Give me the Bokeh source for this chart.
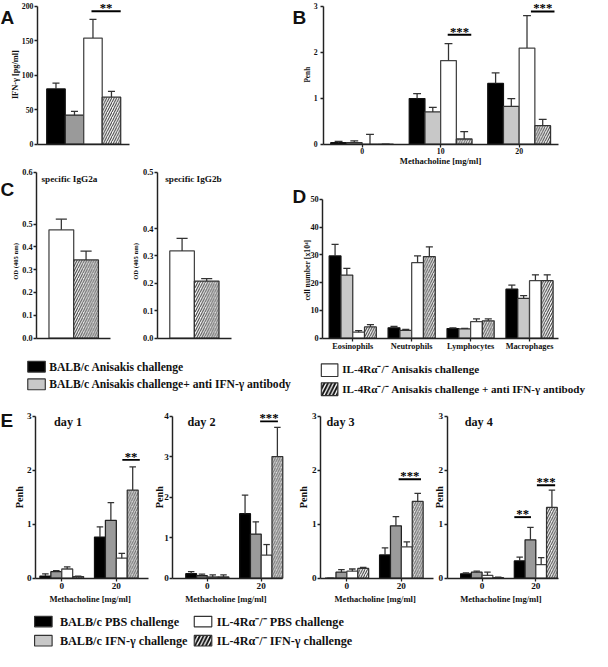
import math
from bokeh.plotting import figure
from bokeh.models import Range1d, FixedTicker, Label, ColumnDataSource
from bokeh.layouts import column, row
from bokeh.embed import file_html
from bokeh.resources import INLINE
from bokeh.core.properties import value

# ------------------------------------------------------------------ DATA
# Panel A : IFN-gamma [pg/ml]
a_groups = ["BALB/c Anisakis", "BALB/c Anisakis + anti IFN-γ",
            "IL-4Rα-/- Anisakis", "IL-4Rα-/- Anisakis + anti IFN-γ"]
a_mean = [80, 42, 154, 68]
a_err = [8.5, 5.5, 27, 8.5]
a_yticks = [0, 50, 100, 150, 200]
a_sig_x0 = [1.92]
a_sig_x1 = [3.5]
a_sig_y = [193]
a_sig_txt = ["**"]

# Panel B : Penh vs methacholine
b_doses = ["0", "10", "20"]
b_balbc = [0.03, 0.99, 1.32]
b_balbc_err = [0.03, 0.11, 0.23]
b_balbc_anti = [0.03, 0.70, 0.82]
b_balbc_anti_err = [0.04, 0.10, 0.17]
b_il4 = [0.0, 1.82, 2.09]
b_il4_err = [0.21, 0.37, 0.71]
b_il4_anti = [0.0, 0.11, 0.40]
b_il4_anti_err = [0.0, 0.16, 0.14]
b_yticks = [0, 1, 2, 3]
b_sig_x0 = [1.09, 2.15]
b_sig_x1 = [1.39, 2.45]
b_sig_y = [2.38, 2.89]
b_sig_txt = ["***", "***"]

# Panel C : specific IgG2a / IgG2b, OD (405 nm)
c_titles = ["specific IgG2a", "specific IgG2b"]
c1_mean = [0.475, 0.343]
c1_err = [0.047, 0.039]
c2_mean = [0.318, 0.208]
c2_err = [0.046, 0.009]
c1_yticks = [0.0, 0.1, 0.2, 0.3, 0.4, 0.5]
c1_ylabels = ["0.0", "0.1", "0.2", "0.3", "0.4", "0.5", "0.6"]
c2_yticks = [0.0, 0.1, 0.2, 0.3, 0.4]
c2_ylabels = ["0.0", "0.1", "0.2", "0.3", "0.4", "0.5"]

# Panel D : cell number [x10^4]
d_categories = ["Eosinophils", "Neutrophils", "Lymphocytes", "Macrophages"]
d_balbc = [29.6, 3.7, 3.4, 17.6]
d_balbc_err = [4.2, 0.5, 0.3, 1.5]
d_balbc_anti = [22.7, 2.8, 3.3, 14.3]
d_balbc_anti_err = [2.4, 0.3, 0.2, 1.0]
d_il4 = [2.1, 27.2, 5.9, 20.7]
d_il4_err = [0.6, 2.4, 1.0, 2.1]
d_il4_anti = [4.0, 29.4, 6.2, 20.7]
d_il4_anti_err = [0.8, 3.5, 0.7, 2.1]
d_yticks = [0, 10, 20, 30, 40, 50]

# Panel E : Penh, day 1-4
e_days = ["day 1", "day 2", "day 3", "day 4"]
e_doses = ["0", "20"]
e1 = [[0.04, 0.76], [0.12, 1.07], [0.17, 0.37], [0.03, 1.63]]
e1_err = [[0.04, 0.19], [0.02, 0.33], [0.04, 0.09], [0.01, 0.43]]
e2 = [[0.11, 1.59], [0.06, 1.09], [0.03, 0.57], [0.03, 3.00]]
e2_err = [[0.05, 0.46], [0.04, 0.30], [0.05, 0.26], [0.05, 0.72]]
e3 = [[0.0, 0.43], [0.11, 0.97], [0.13, 0.58], [0.18, 1.42]]
e3_err = [[0.0, 0.13], [0.05, 0.17], [0.04, 0.09], [0.02, 0.15]]
e4 = [[0.08, 0.32], [0.11, 0.71], [0.05, 0.25], [0.01, 1.31]]
e4_err = [[0.02, 0.07], [0.02, 0.23], [0.06, 0.13], [0.01, 0.32]]
e_ymax = [3, 4, 3, 3]
e_sig_x0 = [[1.11], [0.98], [0.95], [0.60, 1.02]]
e_sig_x1 = [[1.43], [1.31], [1.36], [0.91, 1.36]]
e_sig_y = [[2.19], [3.87], [1.83], [1.13, 1.72]]
e_sig_txt = [["**"], ["***"], ["***"], ["**", "***"]]

legend1_labels = ["BALB/c Anisakis challenge",
                  "BALB/c Anisakis challenge+ anti IFN-γ antibody",
                  "IL-4Rα⁻/⁻ Anisakis challenge",
                  "IL-4Rα⁻/⁻ Anisakis challenge + anti IFN-γ antibody"]
legend2_labels = ["BALB/c PBS challenge", "BALB/c  IFN-γ challenge",
                  "IL-4Rα⁻/⁻ PBS challenge", "IL-4Rα⁻/⁻  IFN-γ challenge"]

# ------------------------------------------------------------------ STYLE
SC = 592 / 608.0
def S(v):
    return v * SC
def R(v):
    return int(round(S(v)))

SERIF = "Liberation Serif"
SANS = "Liberation Sans"
AX = "#222222"

BLACK = dict(fill="#000000", line="#111111")
GRAY_D = dict(fill="#9a9a9a", line="#222222")
GRAY_L = dict(fill="#c8c8c8", line="#333333")
WHITE = dict(fill="#ffffff", line="#444444")
HATCH = dict(fill="#ffffff", line="#333333", hatch=True)


class Panel:
    """A figure that fills its whole cell; axes are drawn at fixed data locations."""
    def __init__(self, cell, axpos, xr, ytop_val, ytop_px):
        self.cx0, self.cy0, self.cx1, self.cy1 = cell
        self.fl, self.fr, self.fb = axpos       # y-axis x, x-axis end, zero line y (ref px)
        self.xr = xr                             # data x at fl and fr
        self.k = (self.fb - ytop_px) / ytop_val  # ref px per y unit
        p = figure(width=R(self.cx1) - R(self.cx0), height=R(self.cy1) - R(self.cy0),
                   x_range=Range1d(self.X(self.cx0), self.X(self.cx1)),
                   y_range=Range1d(self.Y(self.cy1), self.Y(self.cy0)),
                   min_border=0, toolbar_location=None, output_backend="svg")
        p.xgrid.visible = False
        p.ygrid.visible = False
        p.outline_line_color = None
        p.background_fill_color = "white"
        p.border_fill_color = "white"
        self.p = p

    def X(self, px):
        return self.xr[0] + (px - self.fl) / (self.fr - self.fl) * (self.xr[1] - self.xr[0])

    def Y(self, py):
        return (self.fb - py) / self.k

    def axes(self, xticks, xlabels, yticks, ylabels, ybound, fs, xstand=1, ystand=1):
        xa, ya = self.p.xaxis[0], self.p.yaxis[0]
        xa.fixed_location = 0
        ya.fixed_location = self.xr[0]
        xa.bounds = (self.xr[0], self.xr[1])
        ya.bounds = (0, ybound)
        xa.ticker = FixedTicker(ticks=list(xticks))
        xa.major_label_overrides = {t: l for t, l in zip(xticks, xlabels)}
        ya.ticker = FixedTicker(ticks=list(yticks))
        ya.major_label_overrides = {t: l for t, l in zip(yticks, ylabels)}
        for ax in (xa, ya):
            ax.axis_line_color = AX
            ax.axis_line_width = S(1.5)
            ax.major_tick_line_color = AX
            ax.major_tick_line_width = S(1.3)
            ax.major_tick_in = 0
            ax.major_tick_out = 3
            ax.minor_tick_line_color = None
            ax.major_label_text_font = SERIF
            ax.major_label_text_font_style = "bold"
            ax.major_label_text_font_size = f"{S(fs):.1f}px"
            ax.major_label_text_color = "#111111"
        xa.major_label_standoff = int(xstand)
        ya.major_label_standoff = int(ystand)

    def label(self, px, py, text, fs, font=SERIF, angle=0, align="left",
              baseline="middle", style="bold"):
        self.p.add_layout(Label(x=self.X(px), y=self.Y(py),
                                text=text, angle=angle,
                                text_align=align, text_baseline=baseline,
                                text_font=font, text_font_style=style,
                                text_font_size=f"{S(fs):.1f}px", text_color="#111111"))


def bars(pn, xs, means, errs, st, width, cap, lw=1.3):
    src = ColumnDataSource(dict(
        x=xs, top=means, etop=[m + e for m, e in zip(means, errs)],
        c0=[x - cap / 2 for x in xs], c1=[x + cap / 2 for x in xs]))
    kw = dict(fill_color=st["fill"], line_color=st["line"], line_width=S(lw))
    if st.get("hatch"):
        kw.update(hatch_pattern="/", hatch_color="#333333", hatch_scale=S(5),
                  hatch_weight=1.0)
    pn.p.vbar(x="x", top="top", bottom=0, width=width, source=src, **kw)
    pn.p.segment(x0="x", y0="top", x1="x", y1="etop", source=src,
                 line_color="#333333", line_width=S(1.3))
    pn.p.segment(x0="c0", y0="etop", x1="c1", y1="etop", source=src,
                 line_color="#333333", line_width=S(1.3))


def sig(pn, x0, x1, y, txt, fs=13):
    src = ColumnDataSource(dict(x0=x0, x1=x1, y=y, t=txt,
                                xm=[(a + b) / 2 for a, b in zip(x0, x1)]))
    pn.p.segment(x0="x0", y0="y", x1="x1", y1="y", source=src,
                 line_color="#000000", line_width=S(2))
    pn.p.text(x="xm", y="y", text="t", source=src, text_align="center",
              text_baseline="alphabetic", y_offset=-3,
              text_font=value(SERIF), text_font_style="bold",
              text_font_size=f"{S(fs):.1f}px", text_color="#000000")


def grouped(pn, series, errs, styles, ngroups, width=0.2, cap=0.11):
    offs = [-1.5 * width, -0.5 * width, 0.5 * width, 1.5 * width]
    for s, e, st, o in zip(series, errs, styles, offs):
        xs = [g + o for g in range(ngroups)]
        bars(pn, xs, s, e, st, width, cap)


def letter(pn, px, py, ch):
    pn.label(px, py, ch, 19.5, font=SANS, baseline="alphabetic")


# ------------------------------------------------------------------ PANEL A
A = Panel((0, 0, 300, 170), (38, 133, 147), (-1, 4), 200, 6)
A.axes([], [], a_yticks, [str(t) for t in a_yticks], 200, 8)
for i, st in enumerate([BLACK, GRAY_D, WHITE, HATCH]):
    bars(A, [i], [a_mean[i]], [a_err[i]], st, 1.0, 0.38)
sig(A, a_sig_x0, a_sig_x1, a_sig_y, a_sig_txt)
A.label(15, 76, "IFN-γ [pg/ml]", 8.5, angle=math.pi / 2, align="center")
letter(A, 0, 17, "A")

# ------------------------------------------------------------------ PANEL B
B = Panel((300, 0, 608, 170), (332, 573, 147), (-0.49, 2.5), 3, 6)
B.axes([0, 1, 2], b_doses, b_yticks, [str(t) for t in b_yticks], 3, 8, xstand=1, ystand=3)
grouped(B, [b_balbc, b_balbc_anti, b_il4, b_il4_anti],
        [b_balbc_err, b_balbc_anti_err, b_il4_err, b_il4_anti_err],
        [BLACK, GRAY_L, WHITE, HATCH], 3, cap=0.1)
sig(B, b_sig_x0, b_sig_x1, b_sig_y, b_sig_txt)
B.label(315, 76, "Penh", 7.5, angle=math.pi / 2, align="center")
B.label(452, 164.3, "Methacholine [mg/ml]", 8.8, align="center")
letter(B, 300, 17, "B")

# ------------------------------------------------------------------ PANEL C
C1 = Panel((0, 170, 125, 364), (37, 113, 347), (-1, 2), 0.5, 229.5)
c1_top = C1.Y(176)
C1.axes([], [], c1_yticks + [c1_top], c1_ylabels, c1_top, 8.5)
bars(C1, [0], [c1_mean[0]], [c1_err[0]], WHITE, 1.0, 0.45)
bars(C1, [1], [c1_mean[1]], [c1_err[1]], HATCH, 1.0, 0.45)
C1.label(42, 183, c_titles[0], 9.5)
C1.label(15, 268, "OD (405 nm)", 6.8, angle=math.pi / 2, align="center")
letter(C1, 0, 194, "C")

C2 = Panel((125, 170, 300, 364), (161, 237, 347), (-1, 2), 0.4, 234)
c2_top = C2.Y(176)
C2.axes([], [], c2_yticks + [c2_top], c2_ylabels, c2_top, 8.5)
bars(C2, [0], [c2_mean[0]], [c2_err[0]], WHITE, 1.0, 0.45)
bars(C2, [1], [c2_mean[1]], [c2_err[1]], HATCH, 1.0, 0.45)
C2.label(169, 183, c_titles[1], 9.5)
C2.label(138, 268, "OD (405 nm)", 6.8, angle=math.pi / 2, align="center")

# ------------------------------------------------------------------ PANEL D
D = Panel((300, 170, 608, 364), (331, 573, 347), (-0.51, 3.49), 50, 204)
D.axes([0, 1, 2, 3], d_categories, d_yticks, [str(t) for t in d_yticks], 50, 8.5,
       xstand=1, ystand=1)
grouped(D, [d_balbc, d_balbc_anti, d_il4, d_il4_anti],
        [d_balbc_err, d_balbc_anti_err, d_il4_err, d_il4_anti_err],
        [BLACK, GRAY_L, WHITE, HATCH], 4, cap=0.12)
D.label(315, 277, "cell number [x10⁴]", 8, angle=math.pi / 2, align="center")
letter(D, 300, 201, "D")

# ------------------------------------------------------------------ PANEL E
e_cells = [(0, 410, 153, 622), (153, 410, 300, 622), (300, 410, 446, 622), (446, 410, 608, 622)]
e_axes = [(36, 152, 593), (177, 290, 593), (329, 445, 593), (459, 573, 593)]
e_xr = [(-0.48, 1.59), (-0.64, 1.40), (-0.48, 1.59), (-0.65, 1.42)]
e_title_x = [55, 192, 335, 477]
e_ylab_x = [20, 163, 311, 451]
e_data = [e1, e2, e3, e4]
e_errs = [e1_err, e2_err, e3_err, e4_err]
E = []
for i in range(4):
    pn = Panel(e_cells[i], e_axes[i], e_xr[i], e_ymax[i], 427)
    yt = list(range(e_ymax[i] + 1))
    pn.axes([0, 1], e_doses, yt, [str(t) for t in yt], e_ymax[i], 9.5, xstand=2, ystand=1)
    grouped(pn, e_data[i], e_errs[i], [BLACK, GRAY_D, WHITE, HATCH], 2, cap=0.12)
    sig(pn, e_sig_x0[i], e_sig_x1[i], e_sig_y[i], e_sig_txt[i])
    pn.label(e_title_x[i], 433, e_days[i], 12.5)
    pn.label(e_ylab_x[i], 510, "Penh", 10.5, angle=math.pi / 2, align="center")
    fl, fr, fb = e_axes[i]
    pn.label((fl + fr) / 2 - 2, 614, "Methacholine [mg/ml]", 8.8, align="center")
    E.append(pn)
letter(E[0], 0, 432, "E")

# ------------------------------------------------------------------ LEGENDS
def canvas(cell):
    cx0, cy0, cx1, cy1 = cell
    p = figure(width=R(cx1) - R(cx0), height=R(cy1) - R(cy0),
               x_range=Range1d(cx0, cx1), y_range=Range1d(cy1, cy0),
               min_border=0, toolbar_location=None, output_backend="svg",
               x_axis_type=None, y_axis_type=None)
    p.grid.visible = False
    p.outline_line_color = None
    p.background_fill_color = "white"
    p.border_fill_color = "white"
    return p


def legend_entry(p, x, y, w, h, st, text, tx, ty, fs, hs=7.5, hw=2.0):
    kw = dict(fill_color=st["fill"], line_color="#333333", line_width=S(1.2))
    if st.get("hatch"):
        kw.update(hatch_pattern="/", hatch_color="#111111", hatch_scale=S(hs),
                  hatch_weight=S(hw))
    p.rect(x=[x], y=[y], width=w, height=h, **kw)
    p.text(x=[tx], y=[ty], text=[text], text_baseline="middle",
           text_font=value(SERIF), text_font_style="bold",
           text_font_size=f"{S(fs):.1f}px", text_color="#111111")


L1 = canvas((0, 364, 608, 410))
legend_entry(L1, 37, 376.5, 18, 11, BLACK, legend1_labels[0], 50, 377, 11.9)
legend_entry(L1, 37, 394.5, 18, 11, GRAY_L, legend1_labels[1], 50, 394.5, 11.9)
legend_entry(L1, 338, 380, 17, 13, WHITE, legend1_labels[2], 351, 379, 11.4)
legend_entry(L1, 338, 399.5, 17, 13, HATCH, legend1_labels[3], 351, 399.5, 11.4)

L2 = canvas((0, 622, 608, 667))
legend_entry(L2, 44, 637.8, 18, 11, BLACK, legend2_labels[0], 61, 638, 12.5)
legend_entry(L2, 44, 657.8, 18, 11, GRAY_L, legend2_labels[1], 61, 658, 12.5)
legend_entry(L2, 208, 637.8, 18, 11, WHITE, legend2_labels[2], 222, 638, 12.5)
legend_entry(L2, 208, 657.8, 18, 11, HATCH, legend2_labels[3], 222, 658, 12.5)

layout = column(row(A.p, B.p),
                row(C1.p, C2.p, D.p),
                L1,
                row(*[pn.p for pn in E]),
                L2)

open("out.html", "w").write(file_html(layout, INLINE))
